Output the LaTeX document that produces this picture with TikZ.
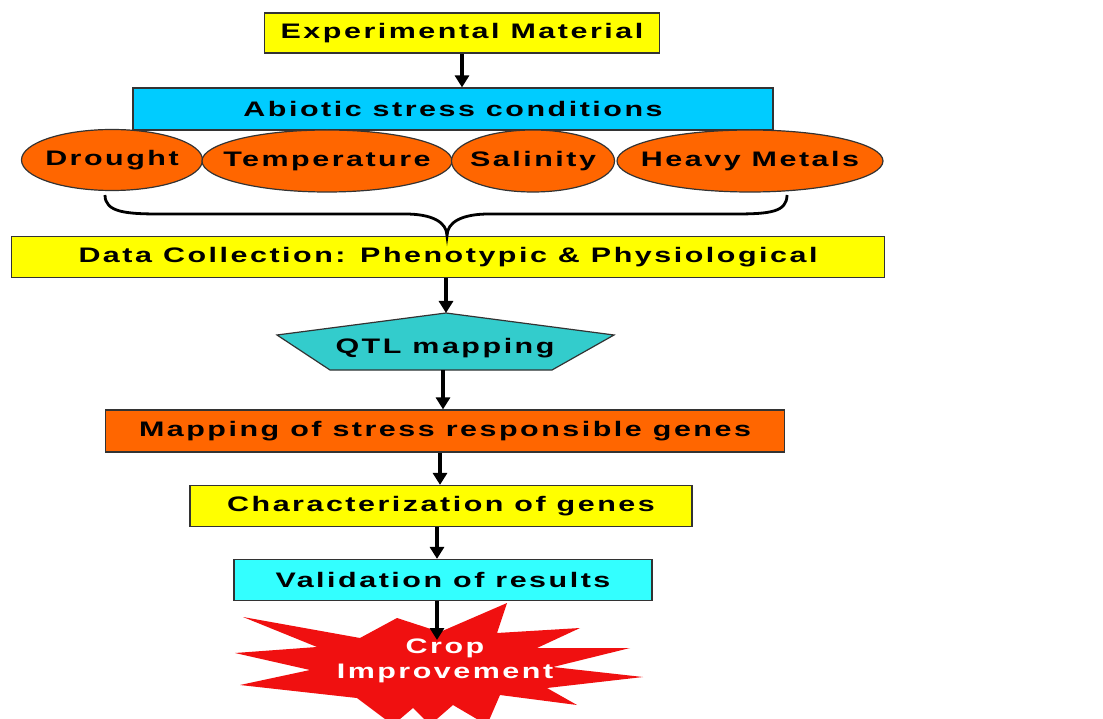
\documentclass[tikz,border=0pt]{standalone}
\usepackage{fontspec}
\setmainfont{Liberation Sans}
\newfontfamily\widefont[FakeStretch=1.45,LetterSpace=12]{Liberation Sans}
\usetikzlibrary{arrows.meta}
\definecolor{cyellow}{HTML}{FFFF00}
\definecolor{ccyan}{HTML}{00CCFF}
\definecolor{clcyan}{HTML}{33FFFF}
\definecolor{corange}{HTML}{FF6600}
\definecolor{cteal}{HTML}{33CCCC}
\definecolor{cred}{HTML}{F01010}
\definecolor{cedge}{HTML}{333333}
\tikzset{
  boxstyle/.style={draw=cedge, line width=1.2pt, inner sep=0pt, font=\widefont\bfseries\fontsize{21}{23}\selectfont, text=black},
  ovalstyle/.style={ellipse, draw=cedge, line width=1.2pt, fill=corange, inner xsep=-40pt, inner ysep=-15pt, font=\widefont\bfseries\fontsize{21}{23}\selectfont},
  flowarrow/.style={line width=3.5pt, -{Triangle[length=12pt,width=14pt]}},
}
\usetikzlibrary{shapes.geometric}
\begin{document}
\begin{tikzpicture}[x=1pt,y=-1pt]
\useasboundingbox (0,0) rectangle (1103,719);
\fill[white] (0,0) rectangle (1103,719);

% boxes
\node[boxstyle, fill=cyellow, minimum width=395pt, minimum height=40pt] (exp) at (462,33) {Experimental Material};
\node[boxstyle, fill=ccyan, minimum width=640pt, minimum height=42pt] (abi) at (453,109) {Abiotic stress conditions};

\node[ovalstyle, minimum width=181pt, minimum height=61pt] (dro) at (112,160) {Drought};
\node[ovalstyle, minimum width=250pt, minimum height=62pt] (tem) at (327,161) {Temperature};
\node[ovalstyle, minimum width=163pt, minimum height=62pt] (sal) at (533,161) {Salinity};
\node[ovalstyle, minimum width=266pt, minimum height=62pt] (hea) at (750,161) {Heavy Metals};

\node[boxstyle, fill=cyellow, minimum width=873pt, minimum height=41pt] (dat) at (448,257) {Data Collection: Phenotypic \& Physiological};

% QTL pentagon
\coordinate (qtop) at (446,313);
\coordinate (qbot) at (443,370);
\filldraw[fill=cteal, draw=cedge, line width=1.2pt] (qtop) -- (614,335) -- (552,370) -- (330,370) -- (277,335) -- cycle;
\node[font=\widefont\bfseries\fontsize{21}{23}\selectfont] (qtl) at (445,348) {QTL mapping};

\node[boxstyle, fill=corange, minimum width=679pt, minimum height=42pt] (map) at (445,431) {Mapping of stress responsible genes};
\node[boxstyle, fill=cyellow, minimum width=502pt, minimum height=41pt] (cha) at (441,506) {Characterization of genes};
\node[boxstyle, fill=clcyan, minimum width=418pt, minimum height=41pt] (val) at (443,580) {Validation of results};

% star burst
\fill[cred] (243,617) -- (360,638) -- (397,618) -- (440,632) -- (507,603) -- (497,633)
  -- (580,628) -- (537,648) -- (630,648) -- (553,667) -- (643,677) -- (547,688)
  -- (577,705) -- (500,695) -- (487,725) -- (453,705) -- (430,725) -- (413,708)
  -- (393,725) -- (357,698) -- (240,685) -- (310,670) -- (235,653) -- (317,647) -- cycle;
\coordinate (startop) at (437,640);
\node[align=center, text=white, font=\widefont\bfseries\fontsize{21}{25}\selectfont] (crop) at (445,661) {Crop\\Improvement};

% brace
\coordinate (bl) at (105,195);
\coordinate (br) at (787,195);
\coordinate (btip) at (447,236);
\draw[line width=2.8pt] (bl) .. controls (105,212) and (125,214) .. (160,214) -- (405,214)
  .. controls (432,214) and (447,222) .. (btip)
  .. controls (447,222) and (462,214) .. (489,214) -- (735,214)
  .. controls (770,214) and (787,212) .. (br);

% arrows
\draw[flowarrow] (exp.south) -- (exp.south |- abi.north);
\draw[flowarrow] (dat.south -| qtop) -- (qtop);
\draw[flowarrow] (qbot) -- (qbot |- map.north);
\draw[flowarrow] (map.south -| 440,0) -- (cha.north -| 440,0);
\draw[flowarrow] (cha.south -| 437,0) -- (val.north -| 437,0);
\draw[flowarrow] (val.south -| startop) -- (startop);
\end{tikzpicture}
\end{document}
